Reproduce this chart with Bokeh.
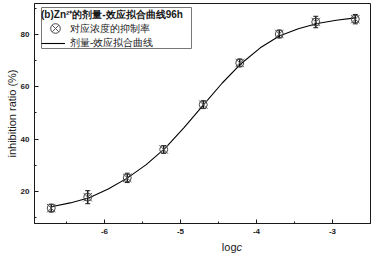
from bokeh.plotting import figure
from bokeh.layouts import column
from bokeh.models import (SingleIntervalTicker, Range1d, Legend, LegendItem, Label,
                          ColumnDataSource, Whisker, TeeHead)
from bokeh.embed import file_html
from bokeh.resources import INLINE

# data
logc = [-6.70, -6.22, -5.70, -5.22, -4.70, -4.22, -3.70, -3.22, -2.70]
ratio = [13.5, 17.7, 25.1, 36.0, 53.2, 69.2, 80.3, 84.9, 86.0]
err = [1.5, 2.5, 1.8, 1.5, 1.5, 1.5, 1.5, 2.2, 1.8]

fit_x = [-6.70, -6.45, -6.20, -5.95, -5.70, -5.45, -5.20, -4.95, -4.70,
         -4.45, -4.20, -3.95, -3.70, -3.45, -3.20, -2.95, -2.70]
fit_y = [14.0, 15.5, 17.5, 20.8, 25.0, 30.2, 36.5, 44.5, 53.0,
         61.5, 69.0, 75.0, 79.5, 82.3, 84.3, 85.6, 86.5]

x_ticks = [-6, -5, -4, -3]
y_ticks = [20, 40, 60, 80]

legend_title = "(b)Zn²⁺的剂量-效应拟合曲线96h"
label_points = "对应浓度的抑制率"
label_curve = "剂量-效应拟合曲线"
x_label_main = "log"
x_label_var = "c"

FONT = "Liberation Sans"
INK = "#1a1a1a"

X0, X1 = -6.92, -2.5
Y0, Y1 = 7.6, 92.0
FRAME_W, FRAME_H = 336, 220

p = figure(width=372, height=238, output_backend="svg", toolbar_location=None,
           x_range=Range1d(X0, X1), y_range=Range1d(Y0, Y1),
           min_border_left=34, min_border_right=2, min_border_top=3, min_border_bottom=15)
p.background_fill_color = "white"
p.border_fill_color = "white"
p.outline_line_color = INK
p.outline_line_width = 1
p.xgrid.visible = False
p.ygrid.visible = False

p.xaxis.ticker = SingleIntervalTicker(interval=1, num_minor_ticks=2)
p.yaxis.ticker = SingleIntervalTicker(interval=20, num_minor_ticks=2)
p.xaxis.major_label_overrides = {t: str(t) for t in x_ticks}
p.yaxis.major_label_overrides = {t: str(t) for t in y_ticks}
for ax in (p.xaxis, p.yaxis):
    ax.axis_line_color = INK
    ax.major_tick_line_color = INK
    ax.minor_tick_line_color = INK
    ax.major_tick_in = 4
    ax.major_tick_out = 0
    ax.minor_tick_in = 2
    ax.minor_tick_out = 0
    ax.major_label_text_font = FONT
    ax.major_label_text_font_style = "bold"
    ax.major_label_text_font_size = "8px"
    ax.major_label_text_color = INK
p.xaxis.major_label_standoff = 5
p.yaxis.major_label_standoff = 5
p.yaxis.axis_label = "inhibition ratio (%)"
p.yaxis.axis_label_text_font = FONT
p.yaxis.axis_label_text_font_style = "normal"
p.yaxis.axis_label_text_font_size = "11px"
p.yaxis.axis_label_text_color = INK
p.yaxis.axis_label_standoff = 0

src = ColumnDataSource(dict(x=logc, y=ratio,
                            lo=[r - e for r, e in zip(ratio, err)],
                            hi=[r + e for r, e in zip(ratio, err)]))

line_r = p.line(fit_x, fit_y, line_color="black", line_width=1.1)
wh = Whisker(source=src, base="x", upper="hi", lower="lo", line_color=INK,
             line_width=1.5,
             upper_head=TeeHead(size=5, line_color=INK),
             lower_head=TeeHead(size=5, line_color=INK))
p.add_layout(wh)
c_r = p.scatter("x", "y", source=src, marker="circle", size=8, fill_color=None,
                line_color="#444444", line_width=1)
x_r = p.scatter("x", "y", source=src, marker="x", size=12,
                line_color="#555555", line_width=1)

# legend frame: pixel offsets inside the plot frame converted through the ranges
def px_to_x(px):
    return X0 + px * (X1 - X0) / FRAME_W

def py_to_y(py):  # py measured down from the frame top
    return Y1 - py * (Y1 - Y0) / FRAME_H

p.quad(left=[px_to_x(7)], right=[px_to_x(157)],
       top=[py_to_y(4)], bottom=[py_to_y(45)],
       fill_color="white", fill_alpha=1, line_color="#777777", line_width=1)

# empty, invisible stand-in so the legend keeps the row for the markers
ghost = p.scatter(x=[], y=[], marker="circle", size=1, line_alpha=0, fill_alpha=0)

legend = Legend(items=[LegendItem(label=label_points, renderers=[ghost]),
                       LegendItem(label=label_curve, renderers=[line_r])],
                title=legend_title, title_text_font=FONT,
                title_text_font_style="bold", title_text_font_size="10px",
                title_text_color=INK, title_standoff=0,
                location=(7, 173), margin=0, padding=2, spacing=0,
                glyph_width=24, glyph_height=12, label_height=12,
                label_standoff=5,
                label_text_font=FONT, label_text_font_size="10px",
                label_text_color=INK,
                border_line_color=None, background_fill_alpha=0)
p.add_layout(legend)
# larger marker symbol drawn over the first legend row
mark = Legend(items=[LegendItem(label=" ", renderers=[c_r, x_r])],
              location=(9, 183), margin=0, padding=0, spacing=0,
              glyph_width=24, glyph_height=24, label_height=12,
              label_standoff=0, label_text_font_size="10px",
              border_line_color=None, background_fill_alpha=0)
p.add_layout(mark)

# strip below the chart for the x-axis title "logc" (c in italics)
q = figure(width=372, height=15, output_backend="svg", toolbar_location=None,
           x_axis_location=None, y_axis_location=None,
           min_border=0, outline_line_color=None,
           x_range=Range1d(0, 1), y_range=Range1d(0, 1))
q.xgrid.visible = False
q.ygrid.visible = False
q.background_fill_color = "white"
q.border_fill_color = "white"
q.add_layout(Label(x=202, y=1, x_units="screen", y_units="screen", text=x_label_main,
                   text_align="right", text_baseline="bottom", text_font=FONT,
                   text_font_size="11px", text_color=INK))
q.add_layout(Label(x=202, y=1, x_units="screen", y_units="screen", text=x_label_var,
                   text_align="left", text_baseline="bottom", text_font=FONT,
                   text_font_size="11px", text_font_style="italic", text_color=INK))

layout = column(p, q, spacing=0)
open("out.html", "w").write(file_html(layout, INLINE))
